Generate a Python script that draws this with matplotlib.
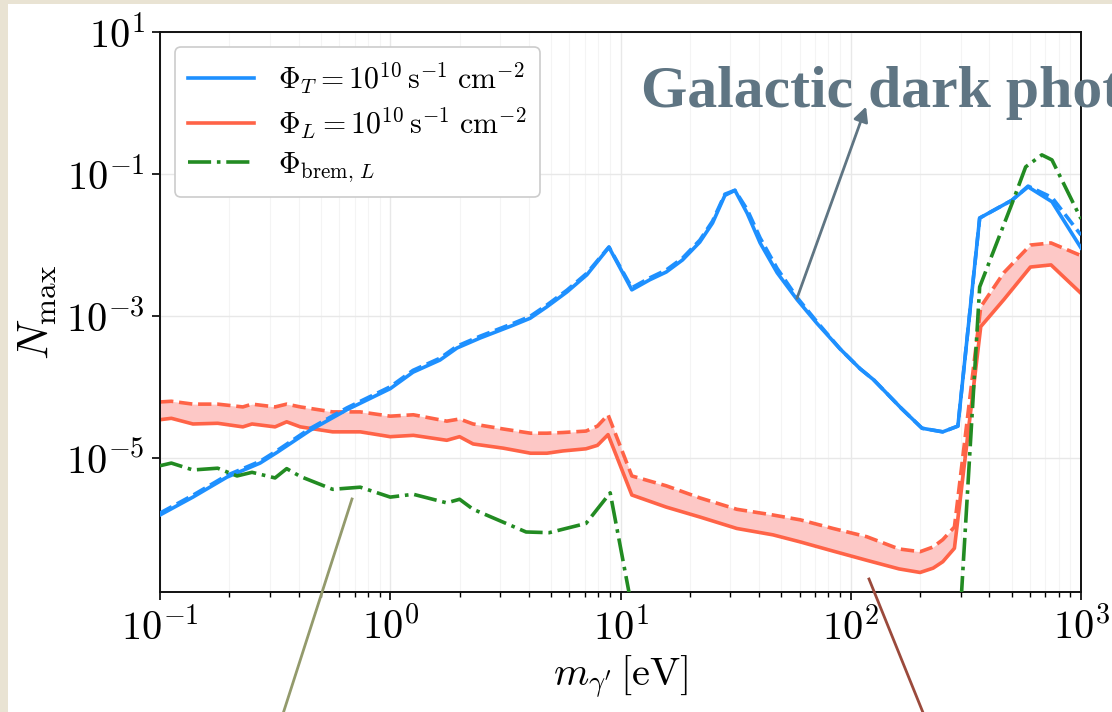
import numpy as np
import matplotlib
matplotlib.use('Agg')
import matplotlib.pyplot as plt
from matplotlib.lines import Line2D
from matplotlib.patches import FancyArrowPatch, Rectangle
from matplotlib.ticker import FixedLocator, FuncFormatter, NullLocator, LogLocator

plt.rcParams['mathtext.fontset'] = 'cm'
plt.rcParams['font.family'] = ['DejaVu Serif']

# ---------------- data ----------------
m_T = [0.1, 0.139, 0.195, 0.272, 0.322, 0.448, 0.649, 1.0, 1.256, 1.644, 1.95, 2.455, 3.41,
       4.05, 4.79, 5.86, 7.14, 8.91, 11.2, 13.4, 15.8, 18.6, 22.1, 25.1, 28.4, 31.4, 35.5,
       40.4, 47.9, 58.5, 71.3, 89.7, 109.6, 125.9, 166, 204, 251, 292, 363, 501, 589, 748, 1000]
N_T_solid = [1.58e-6, 2.82e-6, 5.37e-6, 8.5e-6, 1.2e-5, 2.45e-5, 4.8e-5, 9.5e-5, 1.62e-4, 2.4e-4,
             3.55e-4, 4.9e-4, 7.4e-4, 9.3e-4, 1.35e-3, 2.19e-3, 3.8e-3, 9.3e-3, 2.34e-3, 3.24e-3,
             4.17e-3, 6.17e-3, 1.1e-2, 2.04e-2, 5.0e-2, 5.9e-2, 2.8e-2, 1.07e-2, 4.07e-3, 1.7e-3,
             7.9e-4, 3.47e-4, 1.82e-4, 1.26e-4, 5.0e-5, 2.63e-5, 2.34e-5, 2.82e-5, 2.4e-2, 4.27e-2,
             6.6e-2, 4.07e-2, 9.1e-3]
N_T_dashed = [1.68e-6, 3.0e-6, 5.7e-6, 9.0e-6, 1.27e-5, 2.6e-5, 5.1e-5, 1.01e-4, 1.72e-4, 2.55e-4,
              3.77e-4, 5.2e-4, 7.85e-4, 9.9e-4, 1.43e-3, 2.32e-3, 4.0e-3, 9.4e-3, 2.5e-3, 3.45e-3,
              4.45e-3, 6.55e-3, 1.17e-2, 2.17e-2, 5.2e-2, 5.9e-2, 3.16e-2, 1.26e-2, 4.68e-3, 1.82e-3,
              8.3e-4, 3.47e-4, 1.82e-4, 1.26e-4, 5.0e-5, 2.63e-5, 2.34e-5, 2.82e-5, 2.4e-2, 4.27e-2,
              6.76e-2, 4.68e-2, 1.38e-2]

m_L = [0.1, 0.112, 0.139, 0.178, 0.229, 0.251, 0.316, 0.355, 0.407, 0.562, 0.741, 1.0, 1.26,
       1.76, 2.0, 2.29, 3.09, 4.07, 4.79, 5.62, 7.08, 7.94, 8.83, 11.2, 15.8, 22.1, 32.0, 45.9,
       60.3, 83.8, 117.5, 162, 200, 228, 251, 282, 367, 462, 603, 741, 1000]
N_L_solid = [3.47e-5, 3.63e-5, 3.02e-5, 3.09e-5, 2.75e-5, 3.02e-5, 2.75e-5, 3.24e-5, 2.75e-5,
             2.34e-5, 2.34e-5, 2.0e-5, 2.09e-5, 1.78e-5, 2.0e-5, 1.58e-5, 1.38e-5, 1.17e-5,
             1.17e-5, 1.26e-5, 1.35e-5, 1.51e-5, 2.14e-5, 3.02e-6, 2.04e-6, 1.48e-6, 1.02e-6,
             8.3e-7, 6.6e-7, 4.9e-7, 3.63e-7, 2.75e-7, 2.45e-7, 2.82e-7, 3.47e-7, 5.37e-7,
             7.1e-4, 1.7e-3, 4.9e-3, 5.25e-3, 2.09e-3]
N_L_dashed = [6.17e-5, 6.31e-5, 5.75e-5, 5.75e-5, 5.25e-5, 5.75e-5, 5.25e-5, 5.75e-5, 5.25e-5,
              4.47e-5, 4.47e-5, 3.89e-5, 4.07e-5, 3.31e-5, 3.55e-5, 3.02e-5, 2.57e-5, 2.24e-5,
              2.24e-5, 2.29e-5, 2.4e-5, 2.82e-5, 4.07e-5, 5.6e-6, 4.07e-6, 2.75e-6, 1.9e-6,
              1.58e-6, 1.35e-6, 1.02e-6, 7.8e-7, 5.25e-7, 4.8e-7, 5.6e-7, 7.1e-7, 1.07e-6,
              1.35e-3, 4.07e-3, 1.0e-2, 1.07e-2, 7.1e-3]

m_brem = [0.1, 0.112, 0.139, 0.178, 0.216, 0.251, 0.316, 0.355, 0.407, 0.562, 0.741, 1.0, 1.26,
          1.76, 2.0, 2.29, 3.89, 4.9, 7.08, 9.02, 11.2, 15.8, 251, 299, 363, 501, 575, 676, 748, 1000]
N_brem = [7.8e-6, 8.5e-6, 6.8e-6, 7.2e-6, 5.6e-6, 6.3e-6, 5.25e-6, 7.1e-6, 5.5e-6, 3.63e-6,
          3.89e-6, 2.82e-6, 3.09e-6, 2.34e-6, 2.63e-6, 1.9e-6, 9.1e-7, 8.9e-7, 1.2e-6, 3.24e-6,
          7.9e-8, 1e-9, 1e-9, 6.3e-8, 2.57e-3, 3.8e-2, 0.126, 0.186, 0.158, 2.34e-2]

label_T = r'$\Phi_T = 10^{10}\,\mathrm{s}^{-1}\ \mathrm{cm}^{-2}$'
label_L = r'$\Phi_L = 10^{10}\,\mathrm{s}^{-1}\ \mathrm{cm}^{-2}$'
label_brem = r'$\Phi_{\mathrm{brem},\,L}$'
y_ticks = [1e1, 1e-1, 1e-3, 1e-5]
x_ticks = [1e-1, 1e0, 1e1, 1e2, 1e3]

# ---------------- figure ----------------
W, H = 1112, 712
fig = plt.figure(figsize=(W / 100, H / 100), dpi=100, facecolor='#e9e3d3')
fig.add_artist(Rectangle((8 / W, 0), 1, (H - 4) / H, transform=fig.transFigure,
                         facecolor='white', edgecolor='none', zorder=-10))

ax = fig.add_axes([160 / W, 120 / H, 921 / W, 560 / H])
ax.set_xscale('log')
ax.set_yscale('log')

blue = '#1e90ff'
red = '#ff6347'
green = '#228b22'
LW = 2.6

ax.fill_between(m_L, N_L_solid, N_L_dashed, color='#fdc8c6', lw=0, zorder=1)
hL, = ax.plot(m_L, N_L_solid, color=red, lw=LW, label=label_L, zorder=2)
ax.plot(m_L, N_L_dashed, color=red, lw=LW, ls='--', zorder=2)
hT, = ax.plot(m_T, N_T_solid, color=blue, lw=LW, label=label_T, zorder=3)
ax.plot(m_T, N_T_dashed, color=blue, lw=LW, ls='--', zorder=3)
hB, = ax.plot(m_brem, N_brem, color=green, lw=LW, ls='-.', label=label_brem, zorder=4)

ax.set_xlim(0.1, 1000)
ax.set_ylim(1.3e-7, 10)

pow_fmt = FuncFormatter(lambda v, pos: r'$10^{%d}$' % int(round(np.log10(v))))
ax.yaxis.set_major_locator(FixedLocator(y_ticks))
ax.yaxis.set_major_formatter(pow_fmt)
ax.yaxis.set_minor_locator(NullLocator())
ax.xaxis.set_major_locator(FixedLocator(x_ticks))
ax.xaxis.set_major_formatter(pow_fmt)
ax.xaxis.set_minor_locator(LogLocator(base=10, subs=np.arange(2, 10), numticks=20))

ax.grid(True, which='major', color='#e8e8e8', lw=1.0, zorder=0)
ax.grid(True, which='minor', axis='x', color='#f4f4f4', lw=0.8, zorder=0)
ax.set_axisbelow(True)

ax.tick_params(which='major', direction='out', length=6, width=1.2, labelsize=29, pad=5,
               top=False, right=False)
ax.tick_params(which='minor', direction='out', length=3.5, width=1.0, top=False, right=False)
for s in ax.spines.values():
    s.set_linewidth(1.4)
    s.set_color('#111111')

ax.set_xlabel(r'$m_{\gamma^{\prime}}\,[\mathrm{eV}]$', fontsize=29, labelpad=4)
ax.set_ylabel(r'$N_{\mathrm{max}}$', fontsize=32, labelpad=6)

leg = ax.legend(handles=[hT, hL, hB], loc='upper left', fontsize=21.5, handlelength=2.2,
                handletextpad=0.8, borderaxespad=0.5, labelspacing=0.3, framealpha=1.0,
                fancybox=True, edgecolor='#cccccc', borderpad=0.45)
leg.get_frame().set_linewidth(1.2)

# ---------------- overlay annotations ----------------
def fp(px, py):
    return (px / W, 1 - py / H)

fig.text(*fp(641, 107), 'Galactic dark photon', fontsize=43, fontweight='bold',
         family=['Liberation Serif'], color='#5f7583', va='baseline', ha='left', zorder=10)

arrow = FancyArrowPatch(fp(796, 301), fp(867, 104), transform=fig.transFigure,
                        arrowstyle='-|>', mutation_scale=22, color='#5f7583', lw=2.0, zorder=10)
fig.add_artist(arrow)
fig.add_artist(Line2D([fp(352, 499)[0], fp(281, 720)[0]], [fp(352, 499)[1], fp(281, 720)[1]],
                      transform=fig.transFigure, color='#939a6c', lw=2.0, zorder=10))
fig.add_artist(Line2D([fp(869, 579)[0], fp(926, 720)[0]], [fp(869, 579)[1], fp(926, 720)[1]],
                      transform=fig.transFigure, color='#9b4a3c', lw=2.0, zorder=10))

fig.savefig('out.png', dpi=100, facecolor=fig.get_facecolor())
